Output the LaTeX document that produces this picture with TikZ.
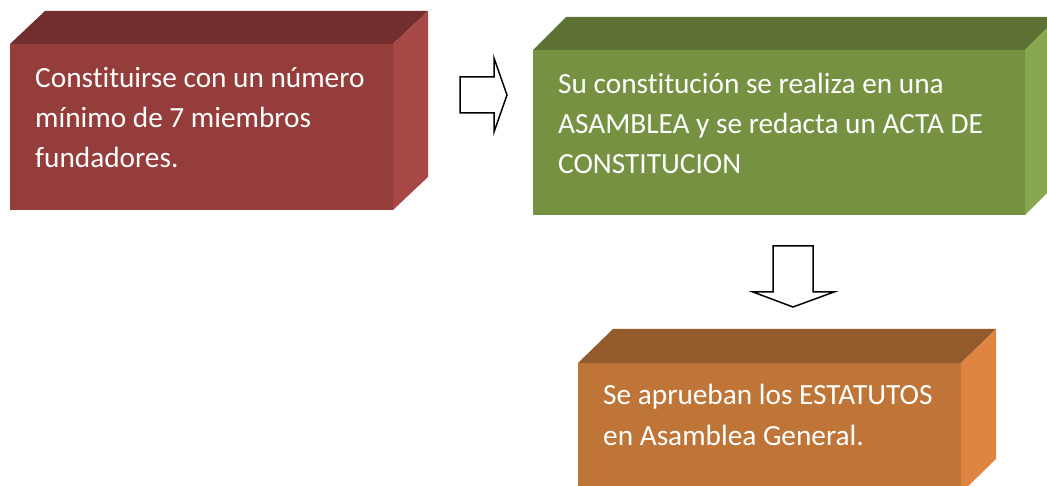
\documentclass[tikz,border=0pt]{standalone}
\usepackage{fontspec}
\setmainfont{Carlito}[Ligatures=NoCommon]
\definecolor{redF}{HTML}{943D3B}
\definecolor{redT}{HTML}{722D2D}
\definecolor{redS}{HTML}{A84846}
\definecolor{grnF}{HTML}{779142}
\definecolor{grnT}{HTML}{5E7134}
\definecolor{grnS}{HTML}{89A74E}
\definecolor{orgF}{HTML}{C07538}
\definecolor{orgT}{HTML}{935A2B}
\definecolor{orgS}{HTML}{DE8541}
\begin{document}
\begin{tikzpicture}[x=1pt,y=-1pt,
  front/.style={rectangle, inner sep=0pt, outer sep=0pt, anchor=north west},
  txt/.style={text=white, font=\fontsize{29.3}{40.3}\selectfont, align=left, inner sep=0pt, anchor=base west},
  blockarrow/.style={draw=black, line width=1.5pt, fill=white, line join=miter}]
\useasboundingbox (0,0) rectangle (1047,486);
\clip (0,0) rectangle (1047,486);
% box 1 (red)
\node[front, fill=redF, minimum width=383pt, minimum height=166pt] (b1) at (10,44) {};
\fill[redT] (b1.north west) -- ++(35,-33) -- ([xshift=35pt,yshift=33pt]b1.north east) -- (b1.north east) -- cycle;
\fill[redS] (b1.north east) -- ++(35,-33) -- ([xshift=35pt,yshift=33pt]b1.south east) -- (b1.south east) -- cycle;
\node[txt] (t1) at (35,168) {Constituirse con un número\\mínimo de 7 miembros\\fundadores.};
% box 2 (green)
\node[front, fill=grnF, minimum width=492pt, minimum height=165pt] (b2) at (533,50) {};
\fill[grnT] (b2.north west) -- ++(33,-33) -- ([xshift=33pt,yshift=33pt]b2.north east) -- (b2.north east) -- cycle;
\fill[grnS] (b2.north east) -- ++(33,-33) -- ([xshift=33pt,yshift=33pt]b2.south east) -- (b2.south east) -- cycle;
\node[txt] (t2) at (558,174) {Su constitución se realiza en una\\ASAMBLEA y se redacta un ACTA DE\\CONSTITUCION};
% box 3 (orange)
\node[front, fill=orgF, minimum width=383pt, minimum height=130pt] (b3) at (578,363) {};
\fill[orgT] (b3.north west) -- ++(35,-34) -- ([xshift=35pt,yshift=34pt]b3.north east) -- (b3.north east) -- cycle;
\fill[orgS] (b3.north east) -- ++(35,-34) -- ([xshift=35pt,yshift=34pt]b3.south east) -- (b3.south east) -- cycle;
\node[txt] (t3) at (603,445) {Se aprueban los ESTATUTOS\\en Asamblea General.};
% block arrows
\draw[blockarrow] (460,77) -- (494,77) -- (494,58) -- (507,95) -- (494,132) -- (494,113) -- (460,113) -- cycle;
\draw[blockarrow] (773,246) -- (813,246) -- (813,292) -- (834,292) -- (793,307) -- (753,292) -- (773,292) -- cycle;
\end{tikzpicture}
\end{document}
